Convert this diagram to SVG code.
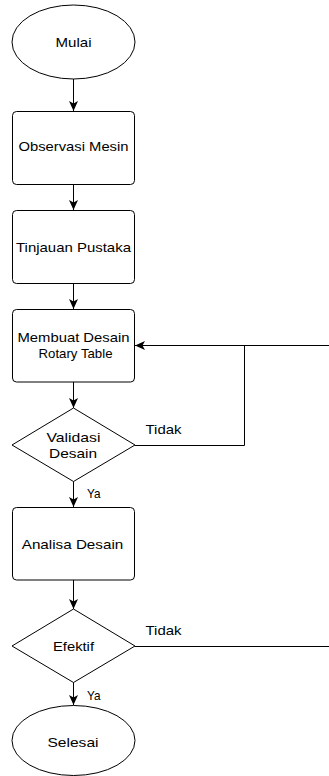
<svg xmlns="http://www.w3.org/2000/svg" width="329" height="776" viewBox="0 0 329 776">
<style>
.shape{fill:#fff;stroke:#000;stroke-width:1}
.conn{fill:none;stroke:#000;stroke-width:1}
text{font-family:"Liberation Sans",Arial,sans-serif;font-size:13px;fill:#000}
.c{text-anchor:middle}
</style>
<defs>
<marker id="arr" markerUnits="userSpaceOnUse" markerWidth="12" markerHeight="10" refX="10" refY="4.5" orient="auto">
<path d="M0,0 L10,4.5 L0,9 L2.5,4.5 Z" fill="#000"/>
</marker>
</defs>
<rect width="329" height="776" fill="#fff"/>
<g id="connectors">
<line class="conn" x1="73.5" y1="79" x2="73.5" y2="111" marker-end="url(#arr)"/>
<line class="conn" x1="73.5" y1="184" x2="73.5" y2="210" marker-end="url(#arr)"/>
<line class="conn" x1="73.5" y1="284" x2="73.5" y2="309" marker-end="url(#arr)"/>
<line class="conn" x1="73.5" y1="382" x2="73.5" y2="408" marker-end="url(#arr)"/>
<line class="conn" x1="73.5" y1="481" x2="73.5" y2="507" marker-end="url(#arr)"/>
<line class="conn" x1="73.5" y1="580" x2="73.5" y2="609" marker-end="url(#arr)"/>
<line class="conn" x1="73.5" y1="682" x2="73.5" y2="705" marker-end="url(#arr)"/>
<polyline class="conn" points="135,445.5 244.5,445.5 244.5,345.5"/>
<line class="conn" x1="329" y1="345.5" x2="135" y2="345.5" marker-end="url(#arr)"/>
<line class="conn" x1="135" y1="646.5" x2="329" y2="646.5"/>
<text x="145.5" y="434" textLength="36" lengthAdjust="spacingAndGlyphs">Tidak</text>
<text x="87" y="498" textLength="13.5" lengthAdjust="spacingAndGlyphs">Ya</text>
<text x="145.5" y="635" textLength="36" lengthAdjust="spacingAndGlyphs">Tidak</text>
<text x="87" y="700" textLength="13.5" lengthAdjust="spacingAndGlyphs">Ya</text>
</g>
<g id="mulai">
<ellipse class="shape" cx="73.5" cy="42" rx="61.5" ry="37"/>
<text class="c" x="73.5" y="47" textLength="36" lengthAdjust="spacingAndGlyphs">Mulai</text>
</g>
<g id="observasi">
<rect class="shape" x="12.5" y="111.5" width="122" height="73" rx="4"/>
<text class="c" x="73.5" y="151" textLength="110" lengthAdjust="spacingAndGlyphs">Observasi Mesin</text>
</g>
<g id="tinjauan">
<rect class="shape" x="12.5" y="210.5" width="122" height="73" rx="4"/>
<text class="c" x="73.5" y="251.5" textLength="115" lengthAdjust="spacingAndGlyphs">Tinjauan Pustaka</text>
</g>
<g id="membuat">
<rect class="shape" x="12.5" y="309.5" width="122" height="72.5" rx="4"/>
<text class="c" x="73.5" y="341.5" textLength="112" lengthAdjust="spacingAndGlyphs">Membuat Desain</text>
<text class="c" x="75.5" y="358" textLength="74" lengthAdjust="spacingAndGlyphs">Rotary Table</text>
</g>
<g id="validasi">
<polygon class="shape" points="73.5,408 135,445 73.5,481.5 12,445"/>
<text class="c" x="73.5" y="441.5" textLength="54" lengthAdjust="spacingAndGlyphs">Validasi</text>
<text class="c" x="73" y="458.3" textLength="48" lengthAdjust="spacingAndGlyphs">Desain</text>
</g>
<g id="analisa">
<rect class="shape" x="12.5" y="507.5" width="122" height="72.5" rx="4"/>
<text class="c" x="72.5" y="549" textLength="101.5" lengthAdjust="spacingAndGlyphs">Analisa Desain</text>
</g>
<g id="efektif">
<polygon class="shape" points="73.5,609 135,646 73.5,682.5 12,646"/>
<text class="c" x="73.5" y="650.5" textLength="41" lengthAdjust="spacingAndGlyphs">Efektif</text>
</g>
<g id="selesai">
<ellipse class="shape" cx="73.5" cy="740.5" rx="61.5" ry="35"/>
<text class="c" x="73" y="746.5" textLength="51" lengthAdjust="spacingAndGlyphs">Selesai</text>
</g>
</svg>
